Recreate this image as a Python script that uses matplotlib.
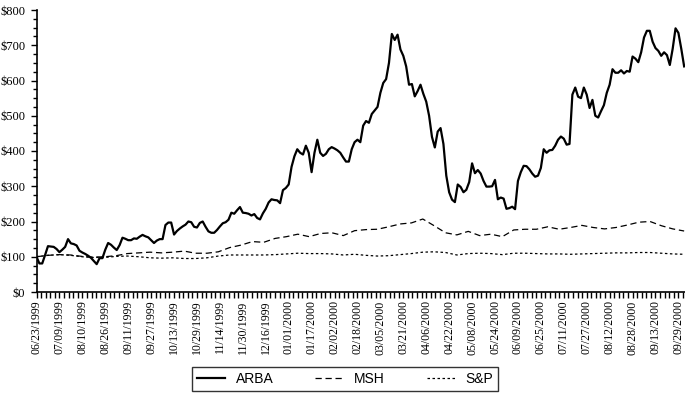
import numpy as np
import matplotlib.pyplot as plt
from matplotlib.ticker import MultipleLocator, FuncFormatter

# tick labels (every 16 days, as printed in the original)
date_labels = ['06/23/1999', '07/09/1999', '08/10/1999', '08/26/1999', '09/11/1999',
               '09/27/1999', '10/13/1999', '10/29/1999', '11/14/1999', '11/30/1999',
               '12/16/1999', '01/01/2000', '01/17/2000', '02/02/2000', '02/18/2000',
               '03/05/2000', '03/21/2000', '04/06/2000', '04/22/2000', '05/08/2000',
               '05/24/2000', '06/09/2000', '06/25/2000', '07/11/2000', '07/27/2000',
               '08/12/2000', '08/28/2000', '09/13/2000', '09/29/2000']

# value of $100 invested
arba = [100, 81, 81, 105, 130, 129, 128, 122, 113, 120,
        128, 150, 138, 136, 132, 117, 112, 108, 103, 97,
        88, 79, 96, 96, 120, 139, 134, 126, 119, 133,
        154, 151, 147, 147, 152, 151, 157, 162, 158, 155,
        147, 139, 146, 150, 150, 190, 197, 197, 163, 173,
        180, 186, 191, 200, 198, 185, 183, 196, 200, 185,
        172, 168, 168, 176, 186, 195, 198, 205, 225, 222,
        232, 241, 225, 224, 222, 217, 221, 210, 206, 223,
        236, 254, 263, 261, 260, 252, 289, 295, 305, 355,
        385, 405, 395, 390, 415, 395, 340, 395, 432, 395,
        386, 392, 405, 411, 407, 402, 395, 382, 370, 370,
        405, 425, 432, 425, 472, 485, 480, 505, 515, 525,
        565, 593, 604, 650, 732, 715, 730, 688, 670, 640,
        588, 590, 555, 570, 588, 562, 540, 500, 440, 410,
        455, 465, 420, 330, 283, 262, 255, 305, 298, 283,
        290, 312, 365, 337, 346, 336, 315, 299, 299, 300,
        318, 263, 268, 265, 236, 238, 242, 235, 315, 340,
        358, 357, 348, 336, 327, 330, 352, 405, 395, 402,
        403, 415, 432, 441, 435, 418, 420, 560, 580, 554,
        550, 580, 560, 522, 545, 500, 495, 513, 530, 565,
        588, 632, 622, 622, 629, 620, 627, 625, 668, 662,
        652, 680, 722, 741, 741, 710, 692, 684, 670, 680,
        672, 644, 690, 748, 735, 690, 640]

msh = [100, 104, 106, 105, 101, 99, 100, 103, 109, 111,
       113, 111, 113, 116, 110, 110, 114, 126, 133, 143,
       141, 152, 157, 164, 157, 166, 168, 160, 174, 177,
       178, 185, 193, 196, 207, 188, 168, 162, 172, 160,
       164, 157, 176, 178, 178, 185, 178, 183, 189, 183,
       179, 183, 190, 198, 200, 188, 179, 173]

sp = [100, 104, 106, 104, 100, 98, 98, 101, 102, 100,
      97, 96, 97, 95, 95, 97, 102, 105, 105, 105,
      105, 106, 108, 110, 109, 109, 108, 105, 107, 104,
      102, 103, 106, 109, 113, 114, 112, 105, 109, 110,
      109, 106, 110, 110, 109, 108, 108, 107, 108, 109,
      110, 111, 111, 112, 112, 110, 108, 107]

step = 8  # points per label interval
x_arba = np.arange(len(arba))
x_idx = np.linspace(0, len(arba) - 1, len(msh))

fig = plt.figure(figsize=(6.85, 3.97), dpi=100)
ax = fig.add_axes([36.5 / 685, 1 - 292 / 397, 1 - 36.5 / 685, 282 / 397])

ax.plot(x_arba, arba, color='black', lw=1.6, label='ARBA')
ax.plot(x_idx, msh, color='black', lw=0.9, dashes=(5, 3), label='MSH')
ax.plot(x_idx, sp, color='black', lw=0.9, dashes=(2, 2), label='S&P')

ax.set_xlim(0, len(arba) - 0.7)
ax.set_ylim(0, 800)

ax.spines['top'].set_visible(False)
ax.spines['right'].set_visible(False)
ax.spines['left'].set_linewidth(1.2)
ax.spines['bottom'].set_linewidth(1.2)

ax.set_xticks(np.arange(len(date_labels)) * step)
ax.set_xticklabels(date_labels, rotation=90, fontfamily='Liberation Serif', fontsize=8.5)
ax.xaxis.set_minor_locator(MultipleLocator(step / 5))
ax.tick_params(axis='x', which='both', length=4, width=1, pad=2, direction='out')

ax.yaxis.set_major_locator(MultipleLocator(100))
ax.yaxis.set_minor_locator(MultipleLocator(25))
ax.yaxis.set_major_formatter(FuncFormatter(lambda v, p: '$%d' % v))
ax.tick_params(axis='y', which='major', length=4, width=1, pad=4)
ax.tick_params(axis='y', which='minor', length=3, width=1)
for t in ax.get_yticklabels():
    t.set_fontfamily('Liberation Serif')
    t.set_fontsize(9)

leg = fig.legend(loc='center', bbox_to_anchor=(0.504, 0.045), ncol=3,
                 prop={'family': 'Liberation Sans', 'size': 10},
                 frameon=True, fancybox=False, edgecolor='black',
                 handlelength=2.0, columnspacing=3.0, borderpad=0.35)
leg.get_frame().set_linewidth(1.0)

fig.savefig('out.png', dpi=100)
